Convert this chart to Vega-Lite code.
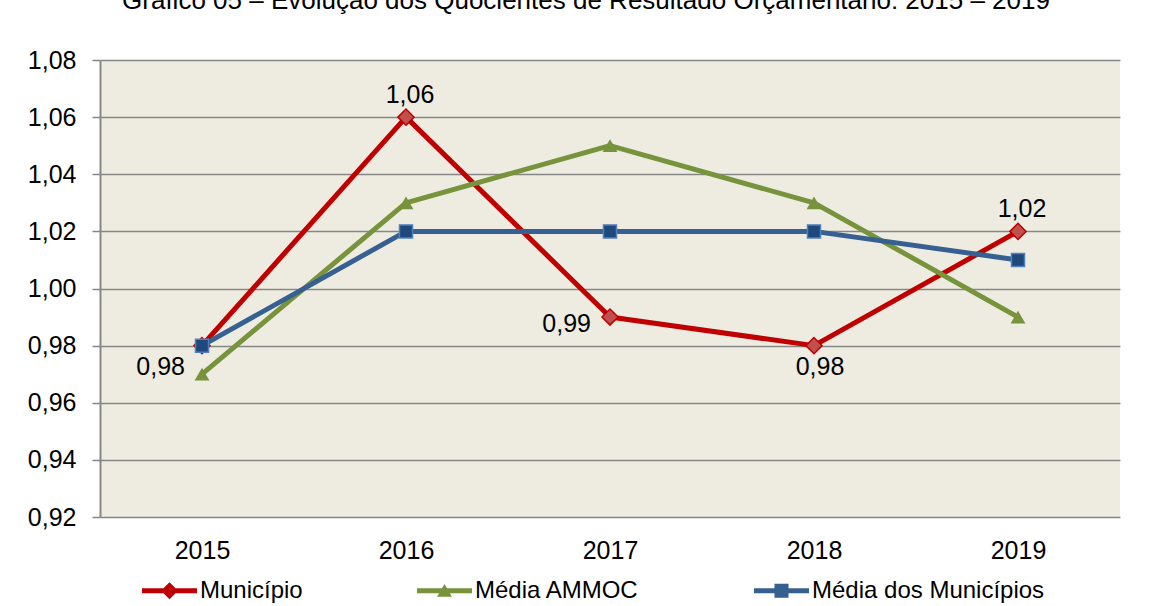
{
  "$schema": "https://vega.github.io/schema/vega-lite/v6.json",
  "width": 1020,
  "height": 457,
  "autosize": {"type": "none"},
  "padding": {"left": 100, "top": 60, "right": 40, "bottom": 89},
  "background": "white",
  "config": {
    "locale": {"number": {"decimal": ",", "thousands": ".", "grouping": [3], "currency": ["R$", ""]}},
    "font": "Liberation Sans",
    "view": {"fill": "#EEECE1", "stroke": null}
  },
  "title": {
    "text": "Gráfico 05 – Evolução dos Quocientes de Resultado Orçamentário: 2015 – 2019",
    "fontSize": 26,
    "fontWeight": "normal",
    "font": "Liberation Sans",
    "color": "black",
    "anchor": "middle",
    "frame": "group",
    "offset": 34,
    "dx": -24
  },
  "data": {
    "values": [
      {"ano": 2015, "serie": "Município", "valor": 0.98},
      {"ano": 2016, "serie": "Município", "valor": 1.06},
      {"ano": 2017, "serie": "Município", "valor": 0.99},
      {"ano": 2018, "serie": "Município", "valor": 0.98},
      {"ano": 2019, "serie": "Município", "valor": 1.02},
      {"ano": 2015, "serie": "Média AMMOC", "valor": 0.97},
      {"ano": 2016, "serie": "Média AMMOC", "valor": 1.03},
      {"ano": 2017, "serie": "Média AMMOC", "valor": 1.05},
      {"ano": 2018, "serie": "Média AMMOC", "valor": 1.03},
      {"ano": 2019, "serie": "Média AMMOC", "valor": 0.99},
      {"ano": 2015, "serie": "Média dos Municípios", "valor": 0.98},
      {"ano": 2016, "serie": "Média dos Municípios", "valor": 1.02},
      {"ano": 2017, "serie": "Média dos Municípios", "valor": 1.02},
      {"ano": 2018, "serie": "Média dos Municípios", "valor": 1.02},
      {"ano": 2019, "serie": "Média dos Municípios", "valor": 1.01}
    ]
  },
  "encoding": {
    "x": {
      "field": "ano",
      "type": "ordinal",
      "scale": {"type": "point", "padding": 0.5},
      "axis": {
        "title": null,
        "labelAngle": 0,
        "ticks": false,
        "domain": false,
        "grid": false,
        "labelFontSize": 25,
        "labelColor": "black",
        "labelPadding": 21,
        "labelFont": "Liberation Sans"
      }
    },
    "y": {
      "field": "valor",
      "type": "quantitative",
      "scale": {"domain": [0.92, 1.08], "zero": false, "nice": false},
      "axis": {
        "title": null,
        "values": [0.92, 0.94, 0.96, 0.98, 1.0, 1.02, 1.04, 1.06, 1.08],
        "format": ".2f",
        "grid": true,
        "gridColor": "#878787",
        "gridWidth": 1.5,
        "domain": true,
        "domainColor": "#878787",
        "domainWidth": 2,
        "ticks": true,
        "tickSize": 8,
        "tickColor": "#878787",
        "tickWidth": 1.5,
        "labelFontSize": 25,
        "labelColor": "black",
        "labelPadding": 16,
        "labelFont": "Liberation Sans"
      }
    }
  },
  "layer": [
    {
      "transform": [{"filter": "datum.serie == 'Município'"}],
      "mark": {"type": "line", "color": "#C00000", "strokeWidth": 5, "strokeCap": "round", "strokeJoin": "round"}
    },
    {
      "transform": [{"filter": "datum.serie == 'Média AMMOC'"}],
      "mark": {"type": "line", "color": "#77933C", "strokeWidth": 5, "strokeCap": "round", "strokeJoin": "round"}
    },
    {
      "transform": [{"filter": "datum.serie == 'Média dos Municípios'"}],
      "mark": {"type": "line", "color": "#376092", "strokeWidth": 5, "strokeCap": "round", "strokeJoin": "round"}
    },
    {
      "transform": [{"filter": "datum.serie == 'Município'"}],
      "mark": {"type": "point", "shape": "diamond", "filled": true, "fill": "#C0504D", "stroke": "#C00000", "strokeWidth": 1.5, "size": 260, "opacity": 1}
    },
    {
      "transform": [{"filter": "datum.serie == 'Média AMMOC'"}],
      "mark": {"type": "point", "shape": "triangle-up", "filled": true, "fill": "#77933C", "strokeWidth": 0, "size": 220, "opacity": 1}
    },
    {
      "transform": [{"filter": "datum.serie == 'Média dos Municípios'"}],
      "mark": {"type": "point", "shape": "square", "filled": true, "fill": "#1F497D", "stroke": "#4F81BD", "strokeWidth": 1.5, "size": 169, "opacity": 1}
    },
    {
      "transform": [{"filter": "datum.serie == 'Município' && datum.ano == 2015"}],
      "mark": {"type": "text", "align": "right", "baseline": "alphabetic", "dx": -17, "dy": 29, "fontSize": 25, "color": "black", "font": "Liberation Sans"},
      "encoding": {"text": {"field": "valor", "type": "quantitative", "format": ".2f"}}
    },
    {
      "transform": [{"filter": "datum.serie == 'Município' && (datum.ano == 2016 || datum.ano == 2019)"}],
      "mark": {"type": "text", "align": "center", "baseline": "alphabetic", "dx": 4, "dy": -14, "fontSize": 25, "color": "black", "font": "Liberation Sans"},
      "encoding": {"text": {"field": "valor", "type": "quantitative", "format": ".2f"}}
    },
    {
      "transform": [{"filter": "datum.serie == 'Município' && datum.ano == 2017"}],
      "mark": {"type": "text", "align": "right", "baseline": "alphabetic", "dx": -19, "dy": 15, "fontSize": 25, "color": "black", "font": "Liberation Sans"},
      "encoding": {"text": {"field": "valor", "type": "quantitative", "format": ".2f"}}
    },
    {
      "transform": [{"filter": "datum.serie == 'Município' && datum.ano == 2018"}],
      "mark": {"type": "text", "align": "center", "baseline": "alphabetic", "dx": 6, "dy": 29, "fontSize": 25, "color": "black", "font": "Liberation Sans"},
      "encoding": {"text": {"field": "valor", "type": "quantitative", "format": ".2f"}}
    },
    {
      "transform": [{"filter": "datum.ano == 0"}],
      "mark": {"type": "point", "filled": true, "opacity": 1},
      "encoding": {
        "color": {
          "field": "serie",
          "type": "nominal",
          "scale": {"domain": ["Município", "Média AMMOC", "Média dos Municípios"], "range": ["#C00000", "#77933C", "#376092"]},
          "legend": {
            "title": null,
            "orient": "none",
            "legendX": 42,
            "legendY": 503,
            "direction": "horizontal",
            "symbolSize": 3025,
            "symbolStrokeWidth": 0,
            "symbolOpacity": 1,
            "labelFontSize": 24,
            "labelColor": "black",
            "labelFont": "Liberation Sans",
            "labelLimit": 400,
            "labelOffset": 3,
            "columnPadding": 114,
            "padding": 0
          }
        },
        "shape": {
          "field": "serie",
          "type": "nominal",
          "scale": {
            "domain": ["Município", "Média AMMOC", "Média dos Municípios"],
            "range": [
              "M-1,-0.09H1V0.09H-1Z M0,-0.31L0.31,0L0,0.31L-0.31,0Z",
              "M-1,-0.09H1V0.09H-1Z M0,-0.25L0.27,0.22L-0.27,0.22Z",
              "M-1,-0.09H1V0.09H-1Z M-0.255,-0.255H0.255V0.255H-0.255Z"
            ]
          },
          "legend": {
            "title": null,
            "orient": "none",
            "legendX": 42,
            "legendY": 503,
            "direction": "horizontal",
            "symbolSize": 3025,
            "symbolStrokeWidth": 0,
            "symbolOpacity": 1,
            "labelFontSize": 24,
            "labelColor": "black",
            "labelFont": "Liberation Sans",
            "labelLimit": 400,
            "labelOffset": 3,
            "columnPadding": 114,
            "padding": 0
          }
        }
      }
    }
  ]
}
